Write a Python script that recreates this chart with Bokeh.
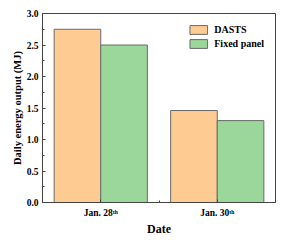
from bokeh.plotting import figure
from bokeh.models import Range1d, FixedTicker, ColumnDataSource, Legend, LegendItem
from bokeh.embed import file_html
from bokeh.resources import INLINE

dates = ["Jan. 28\u1d57\u02b0", "Jan. 30\u1d57\u02b0"]
dasts = [2.75, 1.46]
fixed = [2.50, 1.30]
y_ticks = [0.0, 0.5, 1.0, 1.5, 2.0, 2.5, 3.0]

FONT = "Liberation Serif"
ORANGE = "#FECB93"
GREEN = "#9BD69B"
EDGE = "#6b6b6b"

xpos = [i + 1 for i in range(len(dates))]
src = ColumnDataSource(dict(
    x=xpos,
    xl=[x - 0.2 for x in xpos],
    xr=[x + 0.2 for x in xpos],
    dasts=dasts, fixed=fixed,
))

p = figure(width=286, height=242, output_backend="svg", toolbar_location=None,
           x_range=Range1d(0.5, 2.5), y_range=Range1d(0, 3.0),
           min_border_left=42, min_border_right=11, min_border_top=13, min_border_bottom=40)
p.grid.visible = False
p.outline_line_color = "#444444"
p.outline_line_width = 1
p.background_fill_color = "white"
p.border_fill_color = "white"

r1 = p.vbar(x="xl", top="dasts", width=0.4, source=src, fill_color=ORANGE,
            line_color=EDGE, line_width=1)
r2 = p.vbar(x="xr", top="fixed", width=0.4, source=src, fill_color=GREEN,
            line_color=EDGE, line_width=1)

# y axis
ya = p.yaxis[0]
ya.ticker = FixedTicker(ticks=y_ticks, minor_ticks=[0.25, 0.75, 1.25, 1.75, 2.25, 2.75])
ya.major_label_overrides = {t: f"{t:.1f}" for t in y_ticks}
ya.axis_label = "Daily energy output (MJ)"
ya.axis_label_text_font = FONT
ya.axis_label_text_font_style = "bold"
ya.axis_label_text_font_size = "10.5px"
ya.axis_label_text_color = "black"
ya.axis_label_standoff = 1
ya.major_label_text_font = FONT
ya.major_label_text_font_style = "bold"
ya.major_label_text_font_size = "9.5px"
ya.major_label_text_color = "black"
ya.major_label_standoff = 4
ya.major_tick_in = 3
ya.major_tick_out = 0
ya.minor_tick_in = 2
ya.minor_tick_out = 0
ya.axis_line_color = "#444444"
ya.major_tick_line_color = "#444444"
ya.minor_tick_line_color = "#444444"

# x axis
xa = p.xaxis[0]
xa.ticker = FixedTicker(ticks=xpos, minor_ticks=[1.5])
xa.major_label_overrides = {x: d for x, d in zip(xpos, dates)}
xa.major_label_text_font = FONT
xa.major_label_text_font_style = "bold"
xa.major_label_text_font_size = "9.5px"
xa.major_label_text_color = "black"
xa.major_label_standoff = 5
xa.major_tick_in = 3
xa.major_tick_out = 0
xa.minor_tick_in = 2
xa.minor_tick_out = 0
xa.axis_label = "Date"
xa.axis_label_text_font = FONT
xa.axis_label_text_font_style = "bold"
xa.axis_label_text_font_size = "12px"
xa.axis_label_text_color = "black"
xa.axis_label_standoff = 1
xa.axis_line_color = "#444444"
xa.major_tick_line_color = "#444444"
xa.minor_tick_line_color = "#444444"

legend = Legend(items=[LegendItem(label="DASTS", renderers=[r1]),
                       LegendItem(label="Fixed panel", renderers=[r2])],
                location="top_right")
legend.border_line_alpha = 0
legend.background_fill_alpha = 0
legend.label_text_font = FONT
legend.label_text_font_style = "bold"
legend.label_text_font_size = "10px"
legend.label_text_color = "black"
legend.glyph_width = 22
legend.glyph_height = 11
legend.label_height = 11
legend.spacing = 3
legend.label_standoff = 5
legend.padding = 8
legend.margin = 3
p.add_layout(legend)

open("out.html", "w").write(file_html(p, INLINE))
